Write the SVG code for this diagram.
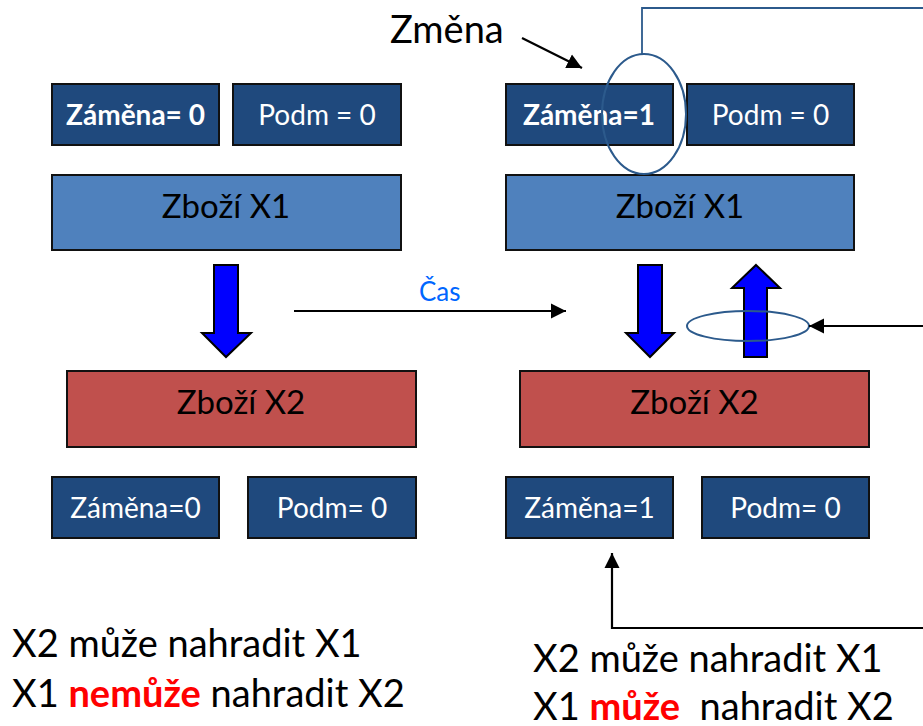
<svg xmlns="http://www.w3.org/2000/svg" width="923" height="726" viewBox="0 0 923 726">
<style>
text{font-family:Lato,"Liberation Sans","DejaVu Sans",sans-serif}
.flag{fill:#1F497D;stroke:#111;stroke-width:2}
.x1{fill:#4F81BD;stroke:#111;stroke-width:2}
.x2{fill:#C0504D;stroke:#111;stroke-width:2}
.ft{fill:#fff;font-size:28px;text-anchor:middle}
.b{font-weight:bold}
.zt{fill:#000;font-size:33px;text-anchor:middle}
.big{fill:#000;font-size:38px}
.red{fill:#FF0000;font-weight:bold}
.blk{fill:#0000FF;stroke:#000;stroke-width:2;stroke-linejoin:miter}
.ln{fill:none;stroke:#000;stroke-width:2.2}
.ell{fill:none;stroke:#2C5A8C;stroke-width:2}
</style>
<defs>
<marker id="ah" markerUnits="userSpaceOnUse" markerWidth="16" markerHeight="16" viewBox="0 0 16 16" refX="15" refY="8" orient="auto">
<path d="M0,0.5 L15,8 L0,15.5 Z" fill="#000"/>
</marker>
</defs>

<g id="left-top-zamena"><rect class="flag" x="52" y="84" width="167" height="61"/><text class="ft b" x="135.5" y="125">Záměna= 0</text></g>
<g id="left-top-podm"><rect class="flag" x="233" y="84" width="168" height="61"/><text class="ft" x="317" y="125">Podm = 0</text></g>
<g id="left-x1"><rect class="x1" x="52" y="175" width="349" height="75"/><text class="zt" x="226" y="218">Zboží X1</text></g>
<g id="left-down"><polygon class="blk" points="214,265 238,265 238,333 251,333 226,357 202,333 214,333"/></g>
<g id="left-x2"><rect class="x2" x="67" y="371" width="349" height="76"/><text class="zt" x="241" y="414">Zboží X2</text></g>
<g id="left-bot-zamena"><rect class="flag" x="52" y="477" width="167" height="61"/><text class="ft" x="135.5" y="518">Záměna=0</text></g>
<g id="left-bot-podm"><rect class="flag" x="248" y="477" width="168" height="61"/><text class="ft" x="332" y="518">Podm= 0</text></g>

<g id="right-top-zamena"><rect class="flag" x="506" y="84" width="167" height="61"/><text class="ft b" x="589" y="125">Záměna=1</text></g>
<g id="right-top-podm"><rect class="flag" x="687" y="84" width="167" height="61"/><text class="ft" x="770.5" y="125">Podm = 0</text></g>
<g id="right-x1"><rect class="x1" x="506" y="175" width="348" height="75"/><text class="zt" x="680" y="218">Zboží X1</text></g>
<g id="right-down"><polygon class="blk" points="638,265 662,265 662,333 674,333 650,357 626,333 638,333"/></g>
<g id="right-up"><polygon class="blk" points="756,265 780,288 767,288 767,357 744,357 744,288 732,288"/></g>
<g id="right-x2"><rect class="x2" x="520" y="371" width="349" height="76"/><text class="zt" x="694.5" y="414">Zboží X2</text></g>
<g id="right-bot-zamena"><rect class="flag" x="506" y="477" width="167" height="61"/><text class="ft" x="589.5" y="518">Záměna=1</text></g>
<g id="right-bot-podm"><rect class="flag" x="702" y="477" width="167" height="61"/><text class="ft" x="785.5" y="518">Podm= 0</text></g>

<g id="zmena-ellipse"><ellipse class="ell" cx="644" cy="114" rx="42" ry="60"/></g>
<g id="up-ellipse"><ellipse class="ell" cx="748" cy="326" rx="61" ry="15"/></g>

<g id="labels">
<text class="big" x="390" y="43">Změna</text>
<text x="419" y="301" style="font-size:26px;fill:#0066FF">Čas</text>
<text class="big" x="12" y="657">X2 může nahradit X1</text>
<text class="big" x="12" y="707">X1 <tspan class="red">nemůže</tspan> nahradit X2</text>
<text class="big" x="533" y="672">X2 může nahradit X1</text>
<text class="big" x="533" y="720" xml:space="preserve">X1 <tspan class="red">může</tspan>  nahradit X2</text>
</g>

<g id="connectors">
<line class="ln" x1="522" y1="38" x2="582" y2="68" marker-end="url(#ah)"/>
<line class="ln" x1="294" y1="311" x2="566" y2="311" marker-end="url(#ah)"/>
<line class="ln" x1="923" y1="326" x2="809" y2="326" marker-end="url(#ah)"/>
<polyline class="ln" points="923,628 612,628 612,553" marker-end="url(#ah)"/>
<polyline fill="none" stroke="#2C5A8C" stroke-width="1.8" points="642,54 642,8 923,8"/>
</g>
</svg>
